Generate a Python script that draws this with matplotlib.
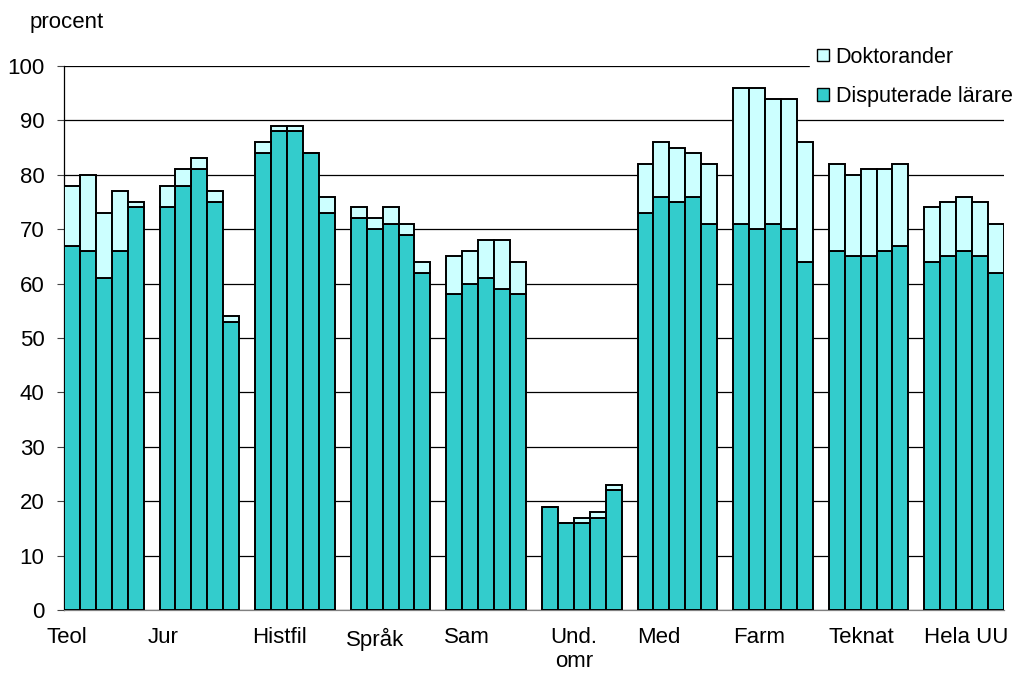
import numpy as np
import matplotlib.pyplot as plt
from matplotlib.patches import Patch

plt.rcParams["font.family"] = ["Liberation Sans", "DejaVu Sans"]

groups = ["Teol", "Jur", "Histfil", "Språk", "Sam", "Und.\nomr", "Med", "Farm", "Teknat", "Hela UU"]

# total height of each bar (disputerade + doktorander), five years per group
totals = [
    [78, 80, 73, 77, 75],
    [78, 81, 83, 77, 54],
    [86, 89, 89, 84, 76],
    [74, 72, 74, 71, 64],
    [65, 66, 68, 68, 64],
    [19, 16, 17, 18, 23],
    [82, 86, 85, 84, 82],
    [96, 96, 94, 94, 86],
    [82, 80, 81, 81, 82],
    [74, 75, 76, 75, 71],
]
disputerade = [
    [67, 66, 61, 66, 74],
    [74, 78, 81, 75, 53],
    [84, 88, 88, 84, 73],
    [72, 70, 71, 69, 62],
    [58, 60, 61, 59, 58],
    [19, 16, 16, 17, 22],
    [73, 76, 75, 76, 71],
    [71, 70, 71, 70, 64],
    [66, 65, 65, 66, 67],
    [64, 65, 66, 65, 62],
]

c_disp = "#33CCCC"
c_dokt = "#CCFFFF"

totals = np.array(totals)
disp = np.array(disputerade)
dokt = totals - disp

n_bars = 5
slot = n_bars + 1
x = np.array([[g * slot + i for i in range(n_bars)] for g in range(len(groups))])

fs = 16

fig = plt.figure(figsize=(10.2, 6.73), dpi=100)
ax = fig.add_axes([0.0627, 0.0936, 0.9216, 0.8083])

ax.bar(x.ravel(), disp.ravel(), width=1.0, color=c_disp, edgecolor="black", linewidth=1.4, zorder=3)
ax.bar(x.ravel(), dokt.ravel(), width=1.0, bottom=disp.ravel(), color=c_dokt,
       edgecolor="black", linewidth=1.4, zorder=3)

ax.set_ylim(0, 100)
ax.set_xlim(-0.5, (len(groups) - 1) * slot + n_bars - 0.5)
ax.set_yticks(np.arange(0, 101, 10))
ax.yaxis.grid(True, color="black", linewidth=0.9, zorder=0)
ax.tick_params(axis="y", labelsize=fs, length=5, width=0.8, pad=9, color="#444444")
ax.set_xticks([])
for s in ["top", "right"]:
    ax.spines[s].set_visible(False)
ax.spines["left"].set_linewidth(0.9)
ax.spines["bottom"].set_linewidth(0.9)
ax.spines["bottom"].set_color("#808080")

# category labels, left edge roughly at the start of each group
label_shift = [-1.07, -0.73, -0.2, -0.3, -0.15, 0.55, 0.0, 0.0, 0.0, 0.0]
for g, name in enumerate(groups):
    ax.text(g * slot - 0.5 + label_shift[g], -3.2, name, ha="left", va="top",
            fontsize=fs, linespacing=1.15, multialignment="center")

fig.text(0.029, 0.967, "procent", fontsize=fs, ha="left", va="center")

handles = [Patch(facecolor=c_dokt, edgecolor="black", linewidth=1.0, label="Doktorander"),
           Patch(facecolor=c_disp, edgecolor="black", linewidth=1.0, label="Disputerade lärare")]
leg = fig.legend(handles=handles, loc="upper left", bbox_to_anchor=(0.794, 0.942),
                 frameon=True, fontsize=15.5, handlelength=0.52, handleheight=0.52,
                 handletextpad=0.33, labelspacing=0.85, borderaxespad=0, borderpad=0.35)
leg.get_frame().set_edgecolor("white")
leg.get_frame().set_facecolor("white")
leg.get_frame().set_alpha(1)
leg.get_frame().set_boxstyle("square", pad=0)

fig.savefig("out.png", dpi=100)
